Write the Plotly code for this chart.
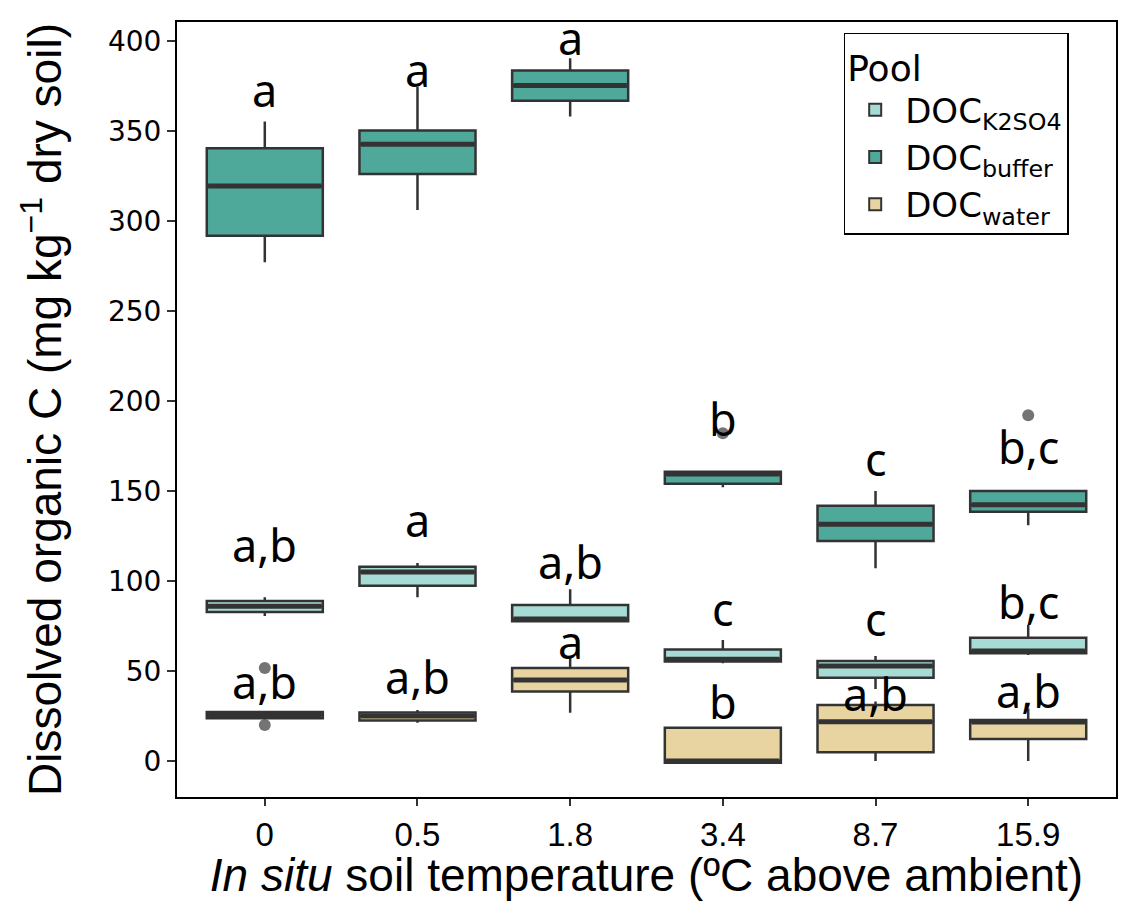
import plotly.graph_objects as go

categories = ["0", "0.5", "1.8", "3.4", "8.7", "15.9"]

# DOC K2SO4
k2_lower = [80.5, 91, 77, 54.3, 40, 58.9]
k2_q1 = [82.8, 97.4, 77.6, 55.2, 46.3, 59.8]
k2_median = [86, 105, 78.9, 56.5, 52.8, 61.1]
k2_q3 = [88.9, 107.9, 86.7, 62, 55.6, 68.5]
k2_upper = [91, 110, 95.4, 67.2, 58.3, 75.5]

# DOC buffer
bu_lower = [277, 306, 358, 152, 107, 131]
bu_q1 = [291.8, 326, 366.7, 154, 122.2, 138.5]
bu_median = [319.4, 342.6, 375.2, 159.4, 131.5, 142.4]
bu_q3 = [340.4, 350.2, 383.5, 160.7, 141.8, 150]
bu_upper = [355.2, 374.6, 390.4, 160.7, 150, 150]

# DOC water
wa_lower = [23.7, 21.3, 26.8, -1, 0, 0]
wa_q1 = [23.7, 22.5, 38.6, -1, 4.8, 12.2]
wa_median = [25.5, 25, 45, 0, 21.8, 21.6]
wa_q3 = [27.2, 27, 51.7, 18.5, 31.1, 22.8]
wa_upper = [27.2, 28.3, 58, 18.5, 33, 29.2]

# outliers
out_x = ["0", "0", "3.4", "15.9"]
out_y = [51.7, 20, 182, 192]

# significance letters
k2_letters = ["a,b", "a", "a,b", "c", "c", "b,c"]
k2_letter_y = [120, 134, 110.7, 84.5, 79.3, 88.5]
bu_letters = ["a", "a", "a", "b", "c", "b,c"]
bu_letter_y = [372.8, 383.9, 401.7, 190.4, 168.2, 174.6]
wa_letters = ["a,b", "a,b", "a", "b", "a,b", "a,b"]
wa_letter_y = [44, 46.8, 66.3, 33, 37.6, 39.4]

pools = [
    ("DOC<sub>K2SO4</sub>", "#A6DCD5", k2_lower, k2_q1, k2_median, k2_q3, k2_upper),
    ("DOC<sub>buffer</sub>", "#4FA99B", bu_lower, bu_q1, bu_median, bu_q3, bu_upper),
    ("DOC<sub>water</sub>", "#E8D4A0", wa_lower, wa_q1, wa_median, wa_q3, wa_upper),
]

outline = "#333333"
fig = go.Figure()

for name, color, lo, q1, med, q3, up in pools:
    fig.add_trace(go.Box(
        x=categories, q1=q1, median=med, q3=q3, lowerfence=lo, upperfence=up,
        name=name, fillcolor=color, line=dict(color=outline, width=2.5),
        width=0.76, boxpoints=False, whiskerwidth=0, hoverinfo="skip",
    ))
    fig.add_trace(go.Scatter(
        x=categories, y=med, mode="markers", showlegend=False, hoverinfo="skip",
        marker=dict(symbol="line-ew", size=81, color=outline,
                    line=dict(color=outline, width=5)),
    ))

fig.add_trace(go.Scatter(
    x=out_x, y=out_y, mode="markers", showlegend=False, hoverinfo="skip",
    marker=dict(size=12, color="rgba(70,70,70,0.75)", line=dict(width=0)),
))

annotations = []
for letters, ys in [(k2_letters, k2_letter_y), (bu_letters, bu_letter_y), (wa_letters, wa_letter_y)]:
    for i, (t, yv) in enumerate(zip(letters, ys)):
        annotations.append(dict(
            x=i, y=yv, xref="x", yref="y", text=t, showarrow=False,
            font=dict(family="Noto Sans", size=45, color="black"),
            xanchor="center", yanchor="middle",
        ))

fig.update_layout(
    width=1126, height=901,
    margin=dict(l=177, r=8, t=22, b=104),
    paper_bgcolor="white", plot_bgcolor="white",
    boxmode="overlay",
    annotations=annotations,
    font=dict(family="Liberation Sans, Arial", color="black"),
    legend=dict(
        title=dict(text="Pool", font=dict(size=36, family="DejaVu Sans")),
        font=dict(size=34, family="DejaVu Sans"),
        x=0.71, y=0.986, xanchor="left", yanchor="top",
        bordercolor="black", borderwidth=1.5, bgcolor="white",
        tracegroupgap=0, itemsizing="constant", itemwidth=50,
    ),
    xaxis=dict(
        type="category", categoryorder="array", categoryarray=categories,
        range=[-0.575, 5.575],
        showline=True, linecolor="black", linewidth=2, mirror=True,
        ticks="outside", ticklen=7, tickwidth=1.5, tickcolor="#333333",
        showgrid=False, zeroline=False,
        tickfont=dict(size=33),
        title=dict(text="<i>In situ</i> soil temperature (ºC above ambient)",
                   font=dict(size=46), standoff=5),
    ),
    yaxis=dict(
        range=[-20, 410.5],
        tickvals=[0, 50, 100, 150, 200, 250, 300, 350, 400],
        showline=True, linecolor="black", linewidth=2, mirror=True,
        ticks="outside", ticklen=8, tickwidth=1.5, tickcolor="#333333",
        showgrid=False, zeroline=False,
        tickfont=dict(size=28, family="DejaVu Sans"),
        title=dict(text="Dissolved organic C (mg kg<sup>−1</sup> dry soil)",
                   font=dict(size=46), standoff=32),
    ),
)

fig.write_html("out.html")
